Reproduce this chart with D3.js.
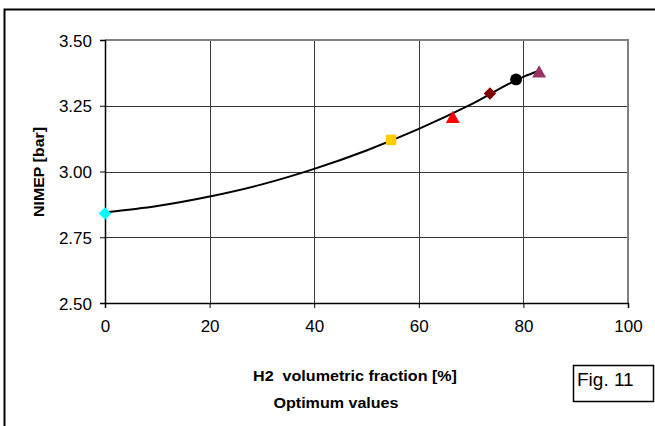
<!DOCTYPE html>
<html>
<head>
<meta charset="utf-8">
<script src="https://cdn.jsdelivr.net/npm/d3@7"></script>
<style>
  body { margin: 0; background: #fff; }
  svg { display: block; font-family: "Liberation Sans", Arial, sans-serif; }
</style>
</head>
<body>
<div id="chart"></div>
<script>
// Optimum points, one marker per case
const h2Fraction = [0, 54.7, 66.5, 73.6, 78.6, 83.0];
const nimep = [2.84, 3.12, 3.20, 3.297, 3.35, 3.373];
const markerShapes = ["diamond", "square", "triangle", "diamond", "circle", "triangle"];
const markerColors = ["#00ffff", "#ffcc00", "#ff0000", "#800000", "#000000", "#993366"];

// Trend line
const trendX = [0, 10, 20, 30, 40, 50, 60, 70, 80, 83];
const trendY = [2.845, 2.869, 2.905, 2.951, 3.01, 3.08, 3.162, 3.255, 3.36, 3.383];

const xTicks = [0, 20, 40, 60, 80, 100];
const yTicks = [2.50, 2.75, 3.00, 3.25, 3.50];

const width = 655, height = 426;
const margin = { top: 40, right: 27, bottom: 123, left: 105 };

const svg = d3.select("#chart").append("svg")
    .attr("width", width)
    .attr("height", height);

// outer frame (runs off the right and bottom edges)
svg.append("rect")
    .attr("x", 4.5).attr("y", 9.5)
    .attr("width", 700).attr("height", 500)
    .attr("fill", "none")
    .attr("stroke", "#000")
    .attr("stroke-width", 2);

const x = d3.scaleLinear()
    .domain([0, 100])
    .range([margin.left, width - margin.right]);

const y = d3.scaleLinear()
    .domain([2.5, 3.5])
    .range([height - margin.bottom, margin.top]);

// grid
svg.append("g")
    .selectAll("line")
    .data(yTicks.slice(1, -1))
    .join("line")
    .attr("x1", x(0)).attr("x2", x(100))
    .attr("y1", d => Math.round(y(d)) + 0.5).attr("y2", d => Math.round(y(d)) + 0.5)
    .attr("stroke", "#3a3a3a");

svg.append("g")
    .selectAll("line")
    .data(xTicks.slice(1, -1))
    .join("line")
    .attr("x1", d => Math.round(x(d)) + 0.5).attr("x2", d => Math.round(x(d)) + 0.5)
    .attr("y1", y(3.5)).attr("y2", y(2.5))
    .attr("stroke", "#3a3a3a");

// top and right border in grey
svg.append("path")
    .attr("d", `M${x(0)},${y(3.5)}H${x(100)}V${y(2.5)}`)
    .attr("fill", "none")
    .attr("stroke", "#808080")
    .attr("stroke-width", 2);

// axes
const xAxis = svg.append("g")
    .attr("transform", `translate(0,${y(2.5)})`)
    .call(d3.axisBottom(x).tickValues(xTicks).tickSize(5).tickPadding(12).tickFormat(d3.format("d")));

const yAxis = svg.append("g")
    .attr("transform", `translate(${x(0)},0)`)
    .call(d3.axisLeft(y).tickValues(yTicks).tickSize(5).tickPadding(8).tickFormat(d3.format(".2f")));

[xAxis, yAxis].forEach(g => {
    g.select(".domain").attr("stroke", "#000").attr("stroke-width", 1.5);
    g.selectAll(".tick line").attr("stroke", "#000");
    g.selectAll(".tick text")
        .attr("fill", "#000")
        .attr("font-size", 17)
        .attr("font-family", "'Liberation Sans', Arial, sans-serif");
});
yAxis.selectAll(".tick text").attr("dy", "0.36em");

// trend line
const trend = trendX.map((d, i) => [d, trendY[i]]);
svg.append("path")
    .datum(trend)
    .attr("fill", "none")
    .attr("stroke", "#000")
    .attr("stroke-width", 2)
    .attr("d", d3.line()
        .x(d => x(d[0]))
        .y(d => y(d[1]))
        .curve(d3.curveMonotoneX));

// markers
const symbolTypes = {
    diamond: d3.symbolDiamond2,
    square: d3.symbolSquare,
    triangle: d3.symbolTriangle,
    circle: d3.symbolCircle
};
const symbolSizes = { diamond: 100, square: 110, triangle: 85, circle: 110 };

svg.append("g")
    .selectAll("path")
    .data(h2Fraction.map((d, i) => ({ x: d, y: nimep[i], shape: markerShapes[i], color: markerColors[i] })))
    .join("path")
    .attr("transform", d => `translate(${x(d.x)},${y(d.y)})`)
    .attr("d", d => d3.symbol().type(symbolTypes[d.shape]).size(symbolSizes[d.shape])())
    .attr("fill", d => d.color);

// axis titles
svg.append("text")
    .attr("transform", "translate(44,172) rotate(-90)")
    .attr("text-anchor", "middle")
    .attr("font-size", 14)
    .attr("font-weight", "bold")
    .attr("textLength", 90)
    .attr("lengthAdjust", "spacingAndGlyphs")
    .text("NIMEP [bar]");

svg.append("text")
    .attr("x", 355).attr("y", 381)
    .attr("text-anchor", "middle")
    .attr("font-size", 15)
    .attr("font-weight", "bold")
    .attr("xml:space", "preserve")
    .attr("textLength", 204)
    .attr("lengthAdjust", "spacingAndGlyphs")
    .text("H2  volumetric fraction [%]");

svg.append("text")
    .attr("x", 336).attr("y", 408)
    .attr("text-anchor", "middle")
    .attr("font-size", 15)
    .attr("font-weight", "bold")
    .attr("textLength", 125)
    .attr("lengthAdjust", "spacingAndGlyphs")
    .text("Optimum values");

// figure label box
svg.append("rect")
    .attr("x", 573.5).attr("y", 365.5)
    .attr("width", 80).attr("height", 36)
    .attr("fill", "#fff")
    .attr("stroke", "#000")
    .attr("stroke-width", 1.5);

svg.append("text")
    .attr("x", 577).attr("y", 386)
    .attr("font-size", 19)
    .text("Fig. 11");
</script>
</body>
</html>
